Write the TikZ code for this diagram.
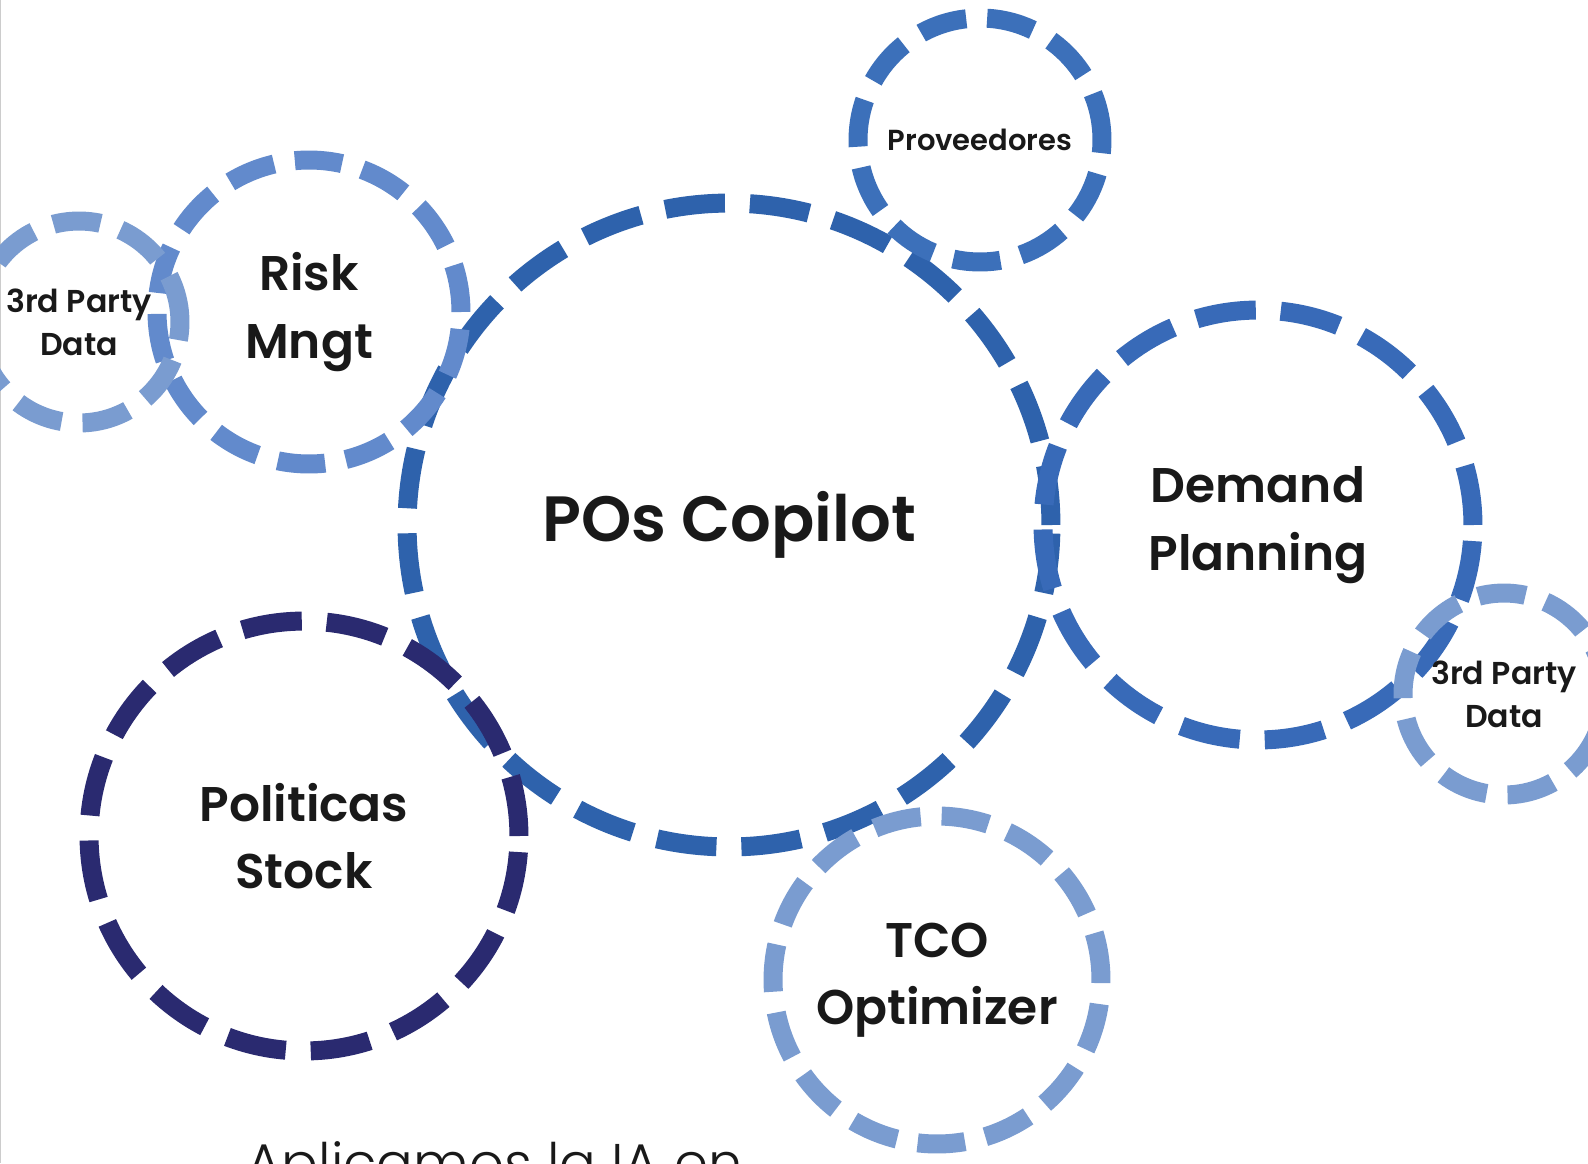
\documentclass[tikz,border=0pt]{standalone}
\usepackage{fontspec}
\setmainfont{Poppins}[BoldFont={Poppins SemiBold}]
\newfontfamily\lightfont{Poppins Light}
\usetikzlibrary{positioning}
\definecolor{copilotblue}{RGB}{46,98,172}
\definecolor{riskblue}{RGB}{98,138,204}
\definecolor{lightblue}{RGB}{122,156,208}
\definecolor{provblue}{RGB}{60,112,186}
\definecolor{demandblue}{RGB}{56,106,184}
\definecolor{navyblue}{RGB}{42,42,112}
\definecolor{textblack}{RGB}{25,25,25}
\tikzset{
  bubble/.style={circle, draw, line width=0.38cm, inner sep=0pt, align=center,
    text=textblack, font=\bfseries\fontsize{27.7}{38.5}\selectfont,
    dash pattern=on 0.95cm off 0.42cm},
  bigdash/.style={dash pattern=on 1.2cm off 0.5cm},
  smalltext/.style={font=\bfseries\fontsize{18}{24.5}\selectfont}
}
\begin{document}
\begin{tikzpicture}[x=0.02cm,y=-0.02cm]
  \useasboundingbox[fill=white] (0,0) rectangle (1588,1163);
  \draw[gray!40, line width=0.6pt] (0.5,0) -- (0.5,1163);
  % bubbles
  \node[bubble, bigdash, draw=copilotblue, minimum size=12.88cm,
    font=\bfseries\fontsize{36.4}{48}\selectfont] (copilot) at (729,525) {POs Copilot};
  \node[bubble, draw=riskblue, minimum size=6.08cm] (risk) at (309,312) {Risk\\Mngt};
  \node[bubble, smalltext, draw=lightblue, minimum size=4.04cm] (thirdl) at (79,322) {3rd Party\\Data};
  \node[bubble, draw=provblue, minimum size=4.88cm,
    font=\bfseries\fontsize{16.5}{22}\selectfont] (prov) at (980,140) {Proveedores};
  \node[bubble, bigdash, draw=demandblue, minimum size=8.6cm] (demand) at (1258,525) {Demand\\Planning};
  \node[bubble, smalltext, draw=lightblue, minimum size=4.04cm] (thirdr) at (1504,694) {3rd Party\\Data};
  \node[bubble, bigdash, draw=navyblue, minimum size=8.6cm] (stock) at (304,836) {Politicas\\Stock};
  \node[bubble, draw=lightblue, minimum size=6.56cm] (tco) at (937,980) {TCO\\Optimizer};
  % caption cut by the page
  \node[anchor=base west, inner sep=0pt, text=textblack,
    font=\lightfont\fontsize{31}{38}\selectfont] (caption) at (246,1182) {Aplicamos la IA en};
\end{tikzpicture}
\end{document}
